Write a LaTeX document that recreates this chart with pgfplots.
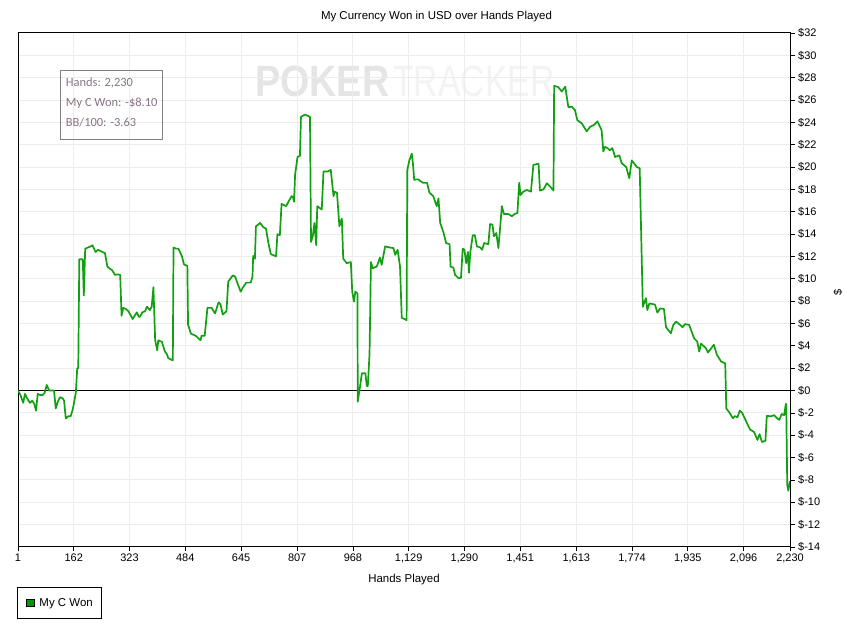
\documentclass[border=0pt]{standalone}
\usepackage{pgfplots}
\pgfplotsset{compat=1.18}
\usepackage{fontspec}
\setmainfont{Liberation Sans}
\newfontfamily\boxfont{Carlito}
\definecolor{linegreen}{RGB}{18,160,18}
\definecolor{legendgreen}{RGB}{0,153,0}
\definecolor{gridgray}{RGB}{236,236,236}
\definecolor{boxtext}{RGB}{135,115,135}
\definecolor{wmdark}{RGB}{229,229,229}
\definecolor{wmlight}{RGB}{243,243,243}
\begin{document}
\begin{tikzpicture}[x=1bp,y=1bp]
\useasboundingbox (0,0) rectangle (853,628);
% watermark behind the grid
\node[anchor=base west, inner sep=0pt, text=wmdark, font=\fontsize{44}{44}\selectfont\bfseries, xscale=0.86] at (255,531) {POKER};
\node[anchor=base west, inner sep=0pt, text=wmlight, font=\fontsize{44}{44}\selectfont, xscale=0.77] at (393,531) {TRACKER};
\begin{axis}[
  at={(18bp,81bp)}, anchor=south west, scale only axis,
  width=772bp, height=514bp,
  xmin=1, xmax=2230, ymin=-14, ymax=32,
  axis line style={black, line width=1bp},
  tick style={black, line width=0.8bp},
  tick align=outside, major tick length=4.5bp,
  xtick pos=bottom, ytick pos=right, yticklabel pos=right,
  xtick={1,162,323,484,645,807,968,1129,1290,1451,1613,1774,1935,2096,2230},
  xticklabels={1,162,323,484,645,807,968,{1,129},{1,290},{1,451},{1,613},{1,774},{1,935},{2,096},{2,230}},
  ytick={-14,-12,...,32},
  yticklabels={\$-14,\$-12,\$-10,\$-8,\$-6,\$-4,\$-2,\$0,\$2,\$4,\$6,\$8,\$10,\$12,\$14,\$16,\$18,\$20,\$22,\$24,\$26,\$28,\$30,\$32},
  ticklabel style={font=\fontsize{11}{12}\selectfont},
  yticklabel style={anchor=west, inner sep=0pt, xshift=3.5bp},
  xticklabel style={anchor=north, inner sep=0pt, yshift=-2bp},
  grid=major, major grid style={gridgray, line width=1bp},
  clip=true,
]
\addplot[black, line width=1bp, forget plot] coordinates {(1,0) (2230,0)};
\addplot[linegreen, line width=1.7bp, line join=round] coordinates {
(1,0) (8,-0.4) (16,-1.1) (21,-0.3) (26,-0.6) (31,-0.9) (36,-1.1) (42,-0.9) (48,-1.2) (53,-1.8)
(58,-0.3) (65,-0.4) (72,-0.4) (78,-0.2) (84,0.5) (91,0.0) (105,0.0) (110,-1.6) (116,-1.0) (122,-0.6)
(130,-0.7) (134,-0.9) (139,-2.5) (146,-2.3) (153,-2.3) (158,-1.8) (161,-1.4) (168,-0.2) (172,2.0) (175,2.0)
(178,11.75) (188,11.75) (191,8.5) (195,12.7) (203,12.8) (210,12.9) (216,13.0) (225,12.4) (232,12.6) (238,12.5)
(252,12.3) (259,11.1) (266,10.9) (272,10.8) (281,10.35) (290,10.4) (296,10.35) (300,6.7) (305,7.4) (312,7.3)
(320,7.1) (332,6.4) (338,6.7) (344,7.0) (350,6.6) (353,6.6) (360,7.0) (368,7.1) (373,7.5) (382,7.2)
(387,7.5) (392,9.25) (397,4.5) (403,3.6) (406,4.5) (412,4.4) (416,4.4) (425,3.5) (430,3.3) (435,2.9)
(448,2.7) (450,12.8) (458,12.7) (464,12.7) (474,12.05) (480,11.3) (490,11.15) (492,5.9) (500,5.1) (507,5.0)
(514,4.9) (528,4.5) (531,4.9) (540,4.9) (548,7.4) (560,7.4) (570,6.9) (580,7.9) (586,7.7) (592,6.8)
(603,7.1) (608,9.75) (621,10.3) (628,10.2) (634,9.66) (644,8.85) (650,9.2) (660,9.66) (673,9.66) (678,10.2)
(680,12.05) (685,11.8) (688,14.7) (700,15.0) (710,14.6) (717,14.5) (724,13.2) (731,12.2) (740,12.1) (746,12.0)
(750,14.0) (757,13.9) (762,16.7) (775,16.5) (782,16.9) (791,17.4) (795,17.3) (798,16.9) (801,19.3) (808,20.9)
(815,21.0) (818,24.5) (830,24.7) (844,24.5) (847,13.3) (852,13.8) (857,15.0) (862,13.0) (865,16.5) (878,16.2)
(883,19.6) (895,19.6) (904,19.75) (912,17.4) (915,17.8) (922,17.7) (929,14.7) (936,15.4) (940,11.8) (950,11.4)
(962,11.5) (966,8.85) (971,7.96) (975,8.85) (981,8.7) (982,-1.0) (987,0.05) (994,1.55) (1004,1.55) (1008,0.4)
(1011,0.4) (1016,3.3) (1020,11.5) (1025,10.95) (1037,11.1) (1046,11.9) (1051,11.25) (1061,12.9) (1075,12.8) (1085,12.75)
(1090,12.15) (1097,12.6) (1104,11.1) (1109,6.5) (1117,6.4) (1123,6.3) (1125,19.75) (1131,20.6) (1138,21.2) (1141,20.4)
(1145,18.85) (1150,18.9) (1157,18.9) (1165,18.7) (1170,18.6) (1182,18.6) (1189,17.7) (1200,17.4) (1210,16.5) (1215,17.2)
(1220,15.0) (1229,14.2) (1237,13.2) (1247,13.1) (1250,11.1) (1258,11.0) (1263,10.35) (1273,10.05) (1280,10.1) (1285,12.7)
(1290,12.6) (1295,11.4) (1300,12.4) (1303,10.55) (1307,12.4) (1314,13.9) (1320,13.9) (1326,12.9) (1336,12.8) (1341,12.6)
(1347,13.2) (1359,13.1) (1364,14.9) (1371,14.85) (1375,13.8) (1382,14.1) (1388,12.75) (1392,14.2) (1398,16.5) (1404,15.8)
(1417,15.8) (1427,15.6) (1435,15.8) (1443,15.9) (1448,18.6) (1452,17.5) (1460,17.8) (1470,17.95) (1482,17.8) (1489,20.2)
(1504,20.3) (1508,17.9) (1518,18.0) (1528,18.55) (1539,18.2) (1547,17.9) (1549,27.27) (1561,27.15) (1571,26.76) (1581,27.2)
(1590,25.36) (1600,25.4) (1609,25.1) (1616,24.2) (1629,23.9) (1643,23.2) (1653,23.6) (1665,23.8) (1674,24.1) (1686,23.3)
(1691,21.4) (1696,21.8) (1703,21.7) (1710,21.5) (1717,21.7) (1725,20.9) (1737,21.05) (1744,20.35) (1757,20.0) (1766,19.0)
(1773,20.6) (1788,20.0) (1796,19.9) (1805,7.5) (1814,8.26) (1818,7.2) (1824,7.8) (1840,7.7) (1847,6.98) (1855,7.35)
(1866,7.3) (1872,5.67) (1886,5.13) (1893,5.87) (1901,6.17) (1913,5.87) (1920,5.67) (1927,5.95) (1939,5.87) (1953,4.68)
(1962,4.39) (1968,3.49) (1973,4.2) (1987,3.8) (1993,3.4) (2003,3.8) (2010,4.1) (2019,3.19) (2031,2.6) (2043,2.43)
(2046,-1.6) (2055,-1.97) (2065,-2.48) (2071,-2.28) (2078,-2.4) (2085,-1.8) (2092,-2.0) (2105,-2.87) (2115,-3.5) (2126,-3.7)
(2136,-4.42) (2142,-3.9) (2149,-4.6) (2159,-4.5) (2163,-2.27) (2175,-2.3) (2184,-2.2) (2190,-2.4) (2199,-2.63) (2206,-2.1)
(2213,-2.2) (2218,-1.2) (2219,-1.2) (2222,-8.45) (2225,-8.96) (2230,-8.1)
};
\end{axis}
% title and axis labels
\node[anchor=base, inner sep=0pt, font=\fontsize{11.5}{12}\selectfont] at (436.5,608) {My Currency Won in USD over Hands Played};
\node[anchor=base, inner sep=0pt, font=\fontsize{11.5}{12}\selectfont] at (404,45) {Hands Played};
\node[rotate=90, inner sep=0pt, font=\fontsize{11}{12}\selectfont] at (838,336) {\$};
% info box
\draw[gray, line width=1bp] (60.3,488.7) rectangle (162.3,557.7);
\begin{scope}[every node/.style={anchor=base west, inner sep=0pt, text=boxtext, font=\boxfont\fontsize{12.5}{13}\selectfont}]
\node at (65.7,541.5) {Hands: 2,230};
\node at (65.7,521.5) {My C Won: -\$8.10};
\node at (65.7,501.5) {BB/100: -3.63};
\end{scope}
% legend
\draw[black, line width=1bp] (17.3,9.7) rectangle (101.7,40.7);
\draw[black, line width=0.8bp, fill=legendgreen] (26.7,21.3) rectangle (34.3,28.9);
\node[anchor=base west, inner sep=0pt, font=\fontsize{11.5}{12}\selectfont] at (39.3,21) {My C Won};
\end{tikzpicture}
\end{document}
